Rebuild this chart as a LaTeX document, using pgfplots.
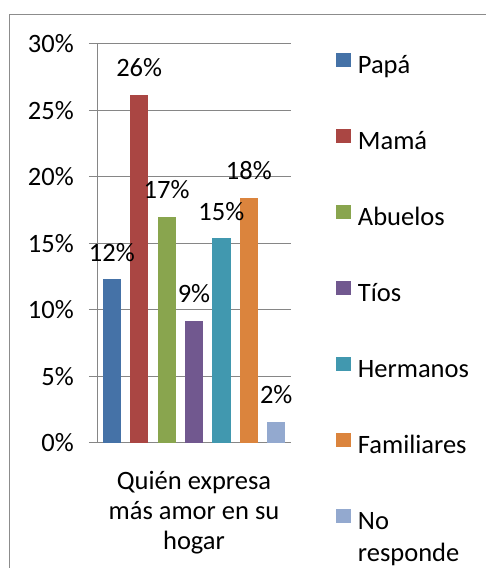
\documentclass[border=0pt]{standalone}
\usepackage{pgfplots}
\pgfplotsset{compat=1.18}
\usepackage{fontspec}
\setmainfont{Carlito}
\definecolor{c1}{HTML}{4572A7}
\definecolor{c2}{HTML}{AA4643}
\definecolor{c3}{HTML}{89A54E}
\definecolor{c4}{HTML}{71588F}
\definecolor{c5}{HTML}{4198AF}
\definecolor{c6}{HTML}{DB843D}
\definecolor{c7}{HTML}{93A9CF}
\definecolor{axgray}{HTML}{868686}
\definecolor{bordergray}{HTML}{8C8C8C}
\begin{document}
\fontsize{26.5}{30}\selectfont
\begin{tikzpicture}[x=1pt,y=1pt]
\useasboundingbox (0,0) rectangle (485,568);
\draw[bordergray, line width=1.4pt] (9.5,-10) -- (9.5,553.5) -- (500,553.5);
\begin{axis}[
  at={(97pt,125pt)}, anchor=south west,
  scale only axis, width=194pt, height=399pt,
  xmin=-0.5, xmax=0.5, ymin=0, ymax=30,
  axis x line*=bottom, axis y line*=left,
  axis line style={draw=axgray, line width=1pt},
  ytick={0,5,10,15,20,25,30},
  yticklabels={0\%,5\%,10\%,15\%,20\%,25\%,30\%},
  ymajorgrids, grid style={draw=axgray, line width=1pt},
  tick align=outside, major tick length=8pt,
  tick style={draw=axgray, line width=1pt},
  yticklabel style={anchor=east, inner sep=0pt, xshift=-15pt},
  xtick={0}, xticklabels={Quién expresa\\más amor en su\\hogar},
  xticklabel style={align=center, anchor=north, inner sep=0pt, yshift=-20pt},
  major x tick style={draw=none},
  extra x ticks={-0.5,0.5}, extra x tick labels={},
  extra x tick style={major tick length=6pt, tick style={draw=axgray, line width=1pt}, grid=none},
  ybar=9.2pt, bar width=18.2pt,
  nodes near coords, point meta=explicit symbolic,
  nodes near coords style={inner sep=0pt, yshift=17.5pt, black},
  legend style={at={(1.232,0.979)}, anchor=north west, draw=none, fill=none,
    inner sep=0pt, row sep=49pt, column sep=6.7pt,
    nodes={inner sep=0pt, text height=18pt, text depth=6pt}},
  legend cell align=left,
  legend image code/.code={\fill[#1,draw=none] (0pt,1pt) rectangle (15pt,15pt);},
]
\addplot[fill=c1, draw=none] coordinates {(0,12.3) [12\%]};
\addlegendentry{Papá}
\addplot[fill=c2, draw=none] coordinates {(0,26.2) [26\%]};
\addlegendentry{Mamá}
\addplot[fill=c3, draw=none] coordinates {(0,17.0) [17\%]};
\addlegendentry{Abuelos}
\addplot[fill=c4, draw=none] coordinates {(0,9.2) [9\%]};
\addlegendentry{Tíos}
\addplot[fill=c5, draw=none] coordinates {(0,15.4) [15\%]};
\addlegendentry{Hermanos}
\addplot[fill=c6, draw=none] coordinates {(0,18.45) [18\%]};
\addlegendentry{Familiares}
\addplot[fill=c7, draw=none] coordinates {(0,1.6) [2\%]};
\addlegendentry{\begin{tabular}[t]{@{}l@{}}No\\[2pt]responde\end{tabular}}
\end{axis}
\end{tikzpicture}
\end{document}
